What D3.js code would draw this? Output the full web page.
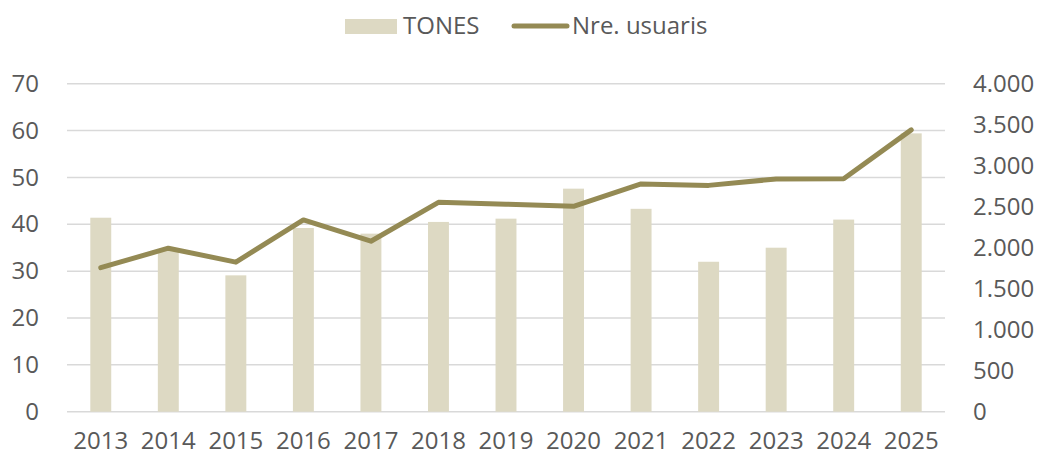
<!DOCTYPE html>
<html>
<head>
<meta charset="utf-8">
<script src="https://cdn.jsdelivr.net/npm/d3@7"></script>
<style>
  body { margin: 0; background: #fff; }
  text { font-family: "Open Sans", "Noto Sans", sans-serif; fill: #595959; }
</style>
</head>
<body>
<div id="chart"></div>
<script>
const years = ['2013', '2014', '2015', '2016', '2017', '2018', '2019', '2020', '2021', '2022', '2023', '2024', '2025'];
const tones = [41.4, 34.4, 29.1, 39.2, 38.0, 40.5, 41.2, 47.6, 43.3, 32.0, 35.0, 41.0, 59.4];
const usuaris = [1756, 1994, 1824, 2339, 2079, 2553, 2531, 2505, 2777, 2760, 2838, 2841, 3437];
const leftTicks = [0, 10, 20, 30, 40, 50, 60, 70];
const rightTicks = [0, 500, 1000, 1500, 2000, 2500, 3000, 3500, 4000];

const width = 1039, height = 462;
const m = { top: 83.7, right: 94, bottom: 50.3, left: 67 };

const svg = d3.select('#chart').append('svg')
  .attr('width', width)
  .attr('height', height);

const x = d3.scaleBand()
  .domain(years)
  .range([m.left, width - m.right])
  .paddingInner(0.69)
  .paddingOuter(0.345);

const yL = d3.scaleLinear().domain([0, 70]).range([height - m.bottom, m.top]);
const yR = d3.scaleLinear().domain([0, 4000]).range([height - m.bottom, m.top]);

const fmt = d3.formatLocale({ decimal: ',', thousands: '.', grouping: [3], currency: ['', ''] }).format(',');

// gridlines
svg.append('g')
  .selectAll('line')
  .data(leftTicks)
  .join('line')
  .attr('x1', m.left)
  .attr('x2', width - m.right)
  .attr('y1', d => yL(d))
  .attr('y2', d => yL(d))
  .attr('stroke', '#d9d9d9')
  .attr('stroke-width', 1.5);

// bars
svg.append('g')
  .selectAll('rect')
  .data(years)
  .join('rect')
  .attr('x', d => x(d))
  .attr('width', x.bandwidth())
  .attr('y', (d, i) => yL(tones[i]))
  .attr('height', (d, i) => yL(0) - yL(tones[i]))
  .attr('fill', '#ddd9c3');

// line
const line = d3.line()
  .x((d, i) => x(years[i]) + x.bandwidth() / 2)
  .y(d => yR(d));

svg.append('path')
  .datum(usuaris)
  .attr('d', line)
  .attr('fill', 'none')
  .attr('stroke', '#948a54')
  .attr('stroke-width', 5)
  .attr('stroke-linecap', 'round')
  .attr('stroke-linejoin', 'round');

// axes
const axisL = d3.axisLeft(yL).tickValues(leftTicks).tickSize(0).tickPadding(28);
svg.append('g')
  .attr('transform', `translate(${m.left},0)`)
  .call(axisL)
  .call(g => g.select('.domain').remove())
  .selectAll('text')
  .attr('font-size', 24)
  .attr('fill', '#595959');

const axisR = d3.axisRight(yR).tickValues(rightTicks).tickFormat(fmt).tickSize(0).tickPadding(28);
svg.append('g')
  .attr('transform', `translate(${width - m.right},0)`)
  .call(axisR)
  .call(g => g.select('.domain').remove())
  .selectAll('text')
  .attr('font-size', 24)
  .attr('fill', '#595959');

const axisB = d3.axisBottom(x).tickSize(0).tickPadding(20);
svg.append('g')
  .attr('transform', `translate(0,${height - m.bottom})`)
  .call(axisB)
  .call(g => g.select('.domain').remove())
  .selectAll('text')
  .attr('font-size', 24)
  .attr('fill', '#595959');

// legend
const legend = svg.append('g');
legend.append('rect')
  .attr('x', 345).attr('y', 19)
  .attr('width', 52).attr('height', 15)
  .attr('fill', '#ddd9c3');
legend.append('text')
  .attr('x', 403).attr('y', 26)
  .attr('dy', '0.35em')
  .attr('font-size', 24)
  .text('TONES');
legend.append('line')
  .attr('x1', 514).attr('x2', 567)
  .attr('y1', 26).attr('y2', 26)
  .attr('stroke', '#948a54')
  .attr('stroke-width', 5)
  .attr('stroke-linecap', 'round');
legend.append('text')
  .attr('x', 572).attr('y', 26)
  .attr('dy', '0.35em')
  .attr('font-size', 24)
  .text('Nre. usuaris');
</script>
</body>
</html>
